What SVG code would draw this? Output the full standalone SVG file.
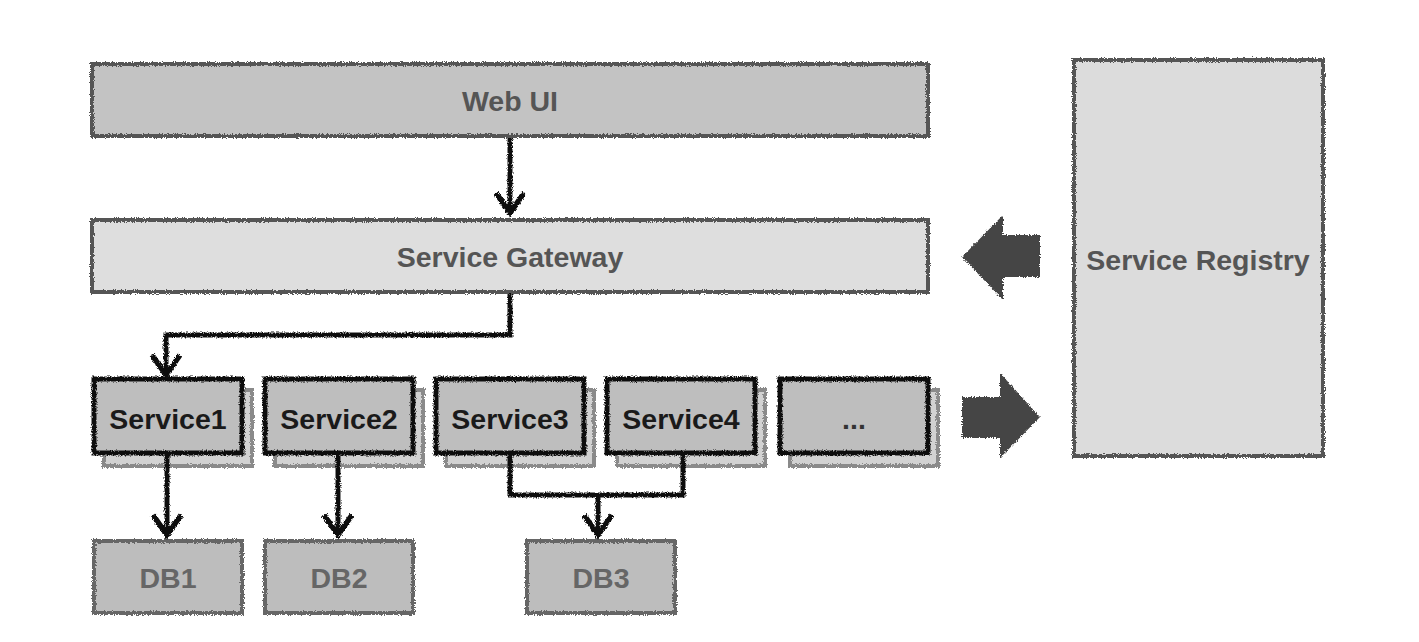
<svg xmlns="http://www.w3.org/2000/svg" width="1419" height="642" viewBox="0 0 1419 642">
<style>
text{font-family:"Liberation Sans",Arial,sans-serif;font-weight:bold;font-size:28.5px;text-anchor:middle}
.big{stroke:#555;stroke-width:4}
.svc{fill:#bebebe;stroke:#111;stroke-width:5}
.shadow{fill:#d2d2d2;stroke:#8a8a8a;stroke-width:4}
.db{fill:#bdbdbd;stroke:#666;stroke-width:4}
.conn{fill:none;stroke:#111;stroke-width:5}
.block{fill:#444}
</style>
<defs>
<filter id="rough" filterUnits="userSpaceOnUse" x="0" y="0" width="1419" height="642">
<feTurbulence type="fractalNoise" baseFrequency="0.9" numOctaves="2" seed="3" result="n"/>
<feDisplacementMap in="SourceGraphic" in2="n" scale="4" xChannelSelector="R" yChannelSelector="G"/>
</filter>
<marker id="arr" markerUnits="userSpaceOnUse" markerWidth="40" markerHeight="40" viewBox="-24 -20 30 40" refX="0" refY="0" orient="auto">
<path d="M-20,-14 L0,0 L-20,14" fill="none" stroke="#111" stroke-width="5.5" stroke-linejoin="miter"/>
</marker>
</defs>
<rect width="1419" height="642" fill="#fff"/>

<g id="web-ui">
<rect x="92" y="64" width="836" height="72" fill="#c3c3c3" class="big" filter="url(#rough)"/>
<text x="510" y="111" fill="#555">Web UI</text>
</g>

<g id="service-gateway">
<rect x="92" y="220" width="836" height="72" fill="#dedede" class="big" filter="url(#rough)"/>
<text x="510" y="267" fill="#555">Service Gateway</text>
</g>

<g id="service-registry">
<rect x="1074" y="60" width="249" height="396" fill="#dcdcdc" class="big" filter="url(#rough)"/>
<text x="1198" y="270" fill="#555">Service Registry</text>
</g>

<g id="service1">
<rect x="104" y="390" width="148" height="76" class="shadow" filter="url(#rough)"/>
<rect x="94" y="379" width="148" height="74" class="svc" filter="url(#rough)"/>
<text x="168" y="429" fill="#1a1a1a">Service1</text>
</g>
<g id="service2">
<rect x="275" y="390" width="148" height="76" class="shadow" filter="url(#rough)"/>
<rect x="265" y="379" width="148" height="74" class="svc" filter="url(#rough)"/>
<text x="339" y="429" fill="#1a1a1a">Service2</text>
</g>
<g id="service3">
<rect x="446" y="390" width="148" height="76" class="shadow" filter="url(#rough)"/>
<rect x="436" y="379" width="148" height="74" class="svc" filter="url(#rough)"/>
<text x="510" y="429" fill="#1a1a1a">Service3</text>
</g>
<g id="service4">
<rect x="617" y="390" width="148" height="76" class="shadow" filter="url(#rough)"/>
<rect x="607" y="379" width="148" height="74" class="svc" filter="url(#rough)"/>
<text x="681" y="429" fill="#1a1a1a">Service4</text>
</g>
<g id="service-more">
<rect x="790" y="390" width="148" height="76" class="shadow" filter="url(#rough)"/>
<rect x="780" y="379" width="148" height="74" class="svc" filter="url(#rough)"/>
<text x="854" y="429" fill="#333">...</text>
</g>

<g id="db1">
<rect x="94" y="541" width="148" height="72" class="db" filter="url(#rough)"/>
<text x="168" y="588" fill="#666">DB1</text>
</g>
<g id="db2">
<rect x="265" y="541" width="148" height="72" class="db" filter="url(#rough)"/>
<text x="339" y="588" fill="#666">DB2</text>
</g>
<g id="db3">
<rect x="527" y="541" width="148" height="72" class="db" filter="url(#rough)"/>
<text x="601" y="588" fill="#666">DB3</text>
</g>

<g id="connectors">
<path class="conn" d="M510,138 L510,213" marker-end="url(#arr)" filter="url(#rough)"/>
<path class="conn" d="M510,294 L510,335 L166,335 L166,375" marker-end="url(#arr)" filter="url(#rough)"/>
<path class="conn" d="M167,455 L167,535" marker-end="url(#arr)" filter="url(#rough)"/>
<path class="conn" d="M338,455 L338,535" marker-end="url(#arr)" filter="url(#rough)"/>
<path class="conn" d="M510,455 L510,495 L683,495 L683,455" filter="url(#rough)"/>
<path class="conn" d="M598,495 L598,535" marker-end="url(#arr)" filter="url(#rough)"/>
<path class="block" d="M1040,235 L1003,235 L1003,215 L962,257 L1003,300 L1003,277 L1040,277 Z" filter="url(#rough)"/>
<path class="block" d="M962,397 L1000,397 L1000,373 L1040,417 L1000,458 L1000,438 L962,438 Z" filter="url(#rough)"/>
</g>
</svg>
